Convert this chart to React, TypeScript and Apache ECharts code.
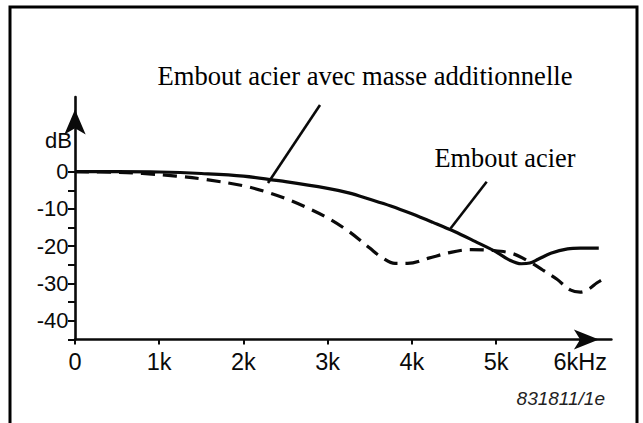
import React, { useEffect, useRef } from 'react';
import * as echarts from 'echarts';

// Axis ticks and labels
const xTicks = [0, 1, 2, 3, 4, 5, 6];
const xTickLabels = ['0', '1k', '2k', '3k', '4k', '5k', '6kHz'];
const yTicks = [-45, -40, -35, -30, -25, -20, -15, -10, -5, 0];
const yLabels = [-40, -30, -20, -10, 0];

// Series: "Embout acier" (solid)
const freqSolid = [0, 0.5, 1.0, 1.5, 2.0, 2.5, 3.0, 3.25, 3.5, 3.75, 4.0, 4.25, 4.5, 4.75, 5.0, 5.15, 5.3, 5.4, 5.5, 5.65, 5.85, 6.0, 6.22];
const dbSolid = [0, 0, -0.1, -0.5, -1.2, -2.7, -4.5, -5.7, -7.4, -9.2, -11.3, -13.6, -16.0, -18.7, -21.5, -23.6, -24.7, -24.5, -23.5, -21.9, -20.7, -20.5, -20.5];

// Series: "Embout acier avec masse additionnelle" (dashed)
const freqDashed = [0, 0.5, 0.8, 1.2, 1.55, 2.0, 2.25, 2.5, 2.75, 3.0, 3.25, 3.5, 3.65, 3.8, 3.95, 4.2, 4.45, 4.7, 4.95, 5.2, 5.4, 5.55, 5.72, 5.88, 6.0, 6.1, 6.2, 6.29];
const dbDashed = [0, -0.2, -0.5, -1.2, -2.1, -3.8, -5.3, -7.2, -9.6, -12.4, -16.0, -20.5, -23.1, -24.6, -24.6, -23.2, -21.7, -20.9, -21.1, -22.0, -24.2, -26.3, -28.8, -31.7, -32.3, -31.5, -29.8, -28.6];

const seriesNames = ['Embout acier', 'Embout acier avec masse additionnelle'];
const yUnit = 'dB';
const figureId = '831811/1e';

const SANS = '"Liberation Sans", Arial, Helvetica, sans-serif';
const SERIF = '"Liberation Serif", "Times New Roman", serif';
const INK = '#0a0a0a';

export default function App() {
  const ref = useRef<HTMLDivElement>(null);

  useEffect(() => {
    if (!ref.current) return;
    const chart = echarts.init(ref.current, undefined, { renderer: 'svg' });

    const solidData = freqSolid.map((f, i) => [f, dbSolid[i]]);
    const dashedData = freqDashed.map((f, i) => [f, dbDashed[i]]);

    chart.setOption({
      animation: false,
      backgroundColor: '#ffffff',
      grid: { left: 75, top: 97, width: 536.4, height: 242.5, containLabel: false },
      xAxis: {
        type: 'value',
        min: 0,
        max: 6.37,
        interval: 1,
        splitLine: { show: false },
        axisLine: {
          show: true,
          onZero: false,
          lineStyle: { color: INK, width: 2.6 },
          symbol: ['none', 'arrow'],
          symbolSize: [15, 25],
          symbolOffset: [0, -12.5],
        },
        axisTick: { show: true, customValues: xTicks, length: 5, lineStyle: { color: INK, width: 2 } },
        axisLabel: {
          show: true,
          customValues: xTicks,
          formatter: (v: number) => {
            const i = xTicks.indexOf(Math.round(v));
            return i >= 0 ? xTickLabels[i] : '';
          },
          margin: 10,
          fontSize: 23.5,
          color: INK,
          fontFamily: SANS,
        },
      },
      yAxis: {
        type: 'value',
        min: -45,
        max: 20,
        interval: 5,
        splitLine: { show: false },
        axisLine: {
          show: true,
          onZero: false,
          lineStyle: { color: INK, width: 2.6 },
          symbol: ['none', 'arrow'],
          symbolSize: [16, 25],
          symbolOffset: [0, -12.5],
        },
        axisTick: { show: true, customValues: yTicks, length: 7, lineStyle: { color: INK, width: 2 } },
        axisLabel: {
          show: true,
          customValues: yLabels,
          margin: 6.5,
          fontSize: 22,
          color: INK,
          fontFamily: SANS,
        },
      },
      series: [
        {
          name: seriesNames[0],
          type: 'line',
          data: solidData,
          smooth: 0.35,
          showSymbol: false,
          clip: false,
          lineStyle: { color: INK, width: 3.2, type: 'solid' },
          z: 3,
        },
        {
          name: seriesNames[1],
          type: 'line',
          data: dashedData,
          smooth: 0.35,
          showSymbol: false,
          clip: false,
          lineStyle: { color: INK, width: 3.2, type: [14, 8] },
          z: 2,
        },
      ],
      graphic: [
        {
          type: 'rect',
          shape: { x: 10, y: 7, width: 627, height: 440 },
          style: { fill: 'none', stroke: '#000', lineWidth: 3 },
          silent: true,
        },
        {
          type: 'text',
          x: 365,
          y: 75.8,
          style: {
            text: seriesNames[1],
            fontSize: 26.6,
            fontFamily: SERIF,
            fill: '#000',
            align: 'center',
            verticalAlign: 'middle',
          },
        },
        {
          type: 'text',
          x: 505,
          y: 158.3,
          style: {
            text: seriesNames[0],
            fontSize: 26.3,
            fontFamily: SERIF,
            fill: '#000',
            align: 'center',
            verticalAlign: 'middle',
          },
        },
        {
          type: 'line',
          shape: { x1: 320, y1: 105, x2: 268, y2: 183 },
          style: { stroke: INK, lineWidth: 2.6 },
        },
        {
          type: 'line',
          shape: { x1: 486.7, y1: 181.7, x2: 450.7, y2: 228.3 },
          style: { stroke: INK, lineWidth: 2.6 },
        },
        {
          type: 'text',
          x: 72,
          y: 140,
          style: {
            text: yUnit,
            fontSize: 22,
            fontFamily: SANS,
            fill: INK,
            align: 'right',
            verticalAlign: 'middle',
          },
        },
        {
          type: 'text',
          x: 605,
          y: 398.3,
          style: {
            text: figureId,
            fontSize: 19,
            fontStyle: 'italic',
            fontFamily: SANS,
            fill: '#222',
            align: 'right',
            verticalAlign: 'middle',
          },
        },
      ],
    });

    return () => {
      chart.dispose();
    };
  }, []);

  return (
    <div
      ref={ref}
      style={{ position: 'fixed', left: 0, top: 0, width: 643, height: 423, background: '#fff' }}
    />
  );
}
